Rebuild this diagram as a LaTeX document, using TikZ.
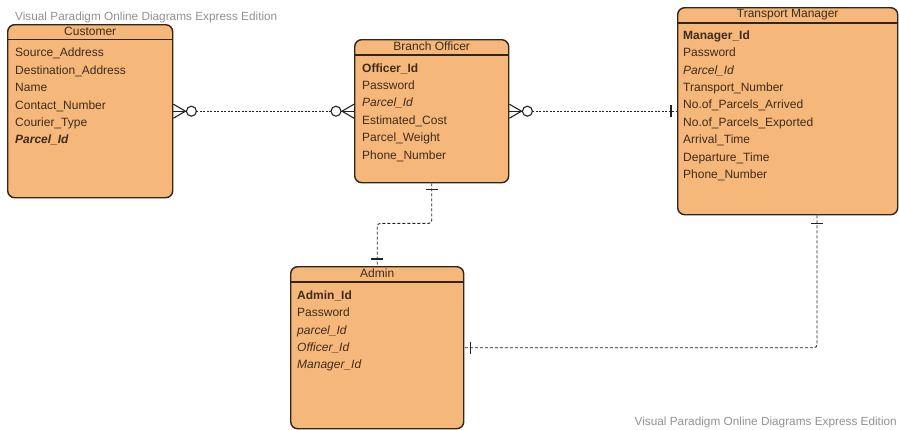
\documentclass[tikz,border=0pt]{standalone}
\usepackage{fontspec}
\setmainfont{Liberation Sans}
\usetikzlibrary{calc}
\definecolor{boxfill}{RGB}{245,183,122}
\definecolor{boxline}{RGB}{50,36,25}
\definecolor{txt}{RGB}{62,44,30}
\definecolor{wmgray}{RGB}{145,145,145}
\definecolor{conn}{RGB}{35,35,35}
\begin{document}
\begin{tikzpicture}[x=1pt,y=-1pt,
  entity/.style={draw=boxline, fill=boxfill, line width=1.4pt, rounded corners=7pt, anchor=north west, inner sep=0pt},
  attr/.style={anchor=west, inner sep=0pt, text=txt, font=\fontsize{12}{14}\selectfont, text height=8.5pt, text depth=2.5pt},
  ttl/.style={attr, anchor=center},
  hdr/.style={draw=boxline, line width=1.2pt},
  rel/.style={draw=conn, line width=0.9pt},
  dotrel/.style={rel, dash pattern=on 2pt off 1.5pt},
  dashrel/.style={rel, dash pattern=on 3pt off 2pt, rounded corners=3pt},
  endmk/.style={draw=conn, line width=1.1pt},
  wmark/.style={anchor=west, inner sep=0pt, text=wmgray, font=\fontsize{11.8}{14}\selectfont}
]
\useasboundingbox (0,0) rectangle (899,429);

% entities
\node[entity, minimum width=165pt, minimum height=173pt] (cust) at (7,24) {};
\node[entity, minimum width=154pt, minimum height=143pt] (bo) at (354,39) {};
\node[entity, minimum width=220pt, minimum height=207pt] (tm) at (677,7) {};
\node[entity, minimum width=173pt, minimum height=162pt] (admin) at (290,266) {};

% header lines
\draw[hdr] ($(cust.north west)+(0,15.5)$) -- ($(cust.north east)+(0,15.5)$);
\draw[hdr] ($(bo.north west)+(0,16)$) -- ($(bo.north east)+(0,16)$);
\draw[hdr] ($(tm.north west)+(0,16)$) -- ($(tm.north east)+(0,16)$);
\draw[hdr] ($(admin.north west)+(0,16)$) -- ($(admin.north east)+(0,16)$);

% titles
\node[ttl] (custT) at ($(cust.north)+(0,8)$) {Customer};
\node[ttl] (boT) at ($(bo.north)+(0,8)$) {Branch Officer};
\node[ttl] (tmT) at ($(tm.north)+(0,7.5)$) {Transport Manager};
\node[ttl] (adminT) at ($(admin.north)+(0,8)$) {Admin};

% Customer attributes
\node[attr] (c1) at (15,53) {Source\_Address};
\node[attr] (c2) at (15,71) {Destination\_Address};
\node[attr] (c3) at (15,88.5) {Name};
\node[attr] (c4) at (15,106) {Contact\_Number};
\node[attr] (c5) at (15,123) {Courier\_Type};
\node[attr] (c6) at (15,140.5) {\bfseries\itshape Parcel\_Id};

% Branch Officer attributes
\node[attr] (b1) at (362,69) {\bfseries Officer\_Id};
\node[attr] (b2) at (362,86.5) {Password};
\node[attr] (b3) at (362,103.5) {\itshape Parcel\_Id};
\node[attr] (b4) at (362,121) {Estimated\_Cost};
\node[attr] (b5) at (362,138) {Parcel\_Weight};
\node[attr] (b6) at (362,156) {Phone\_Number};

% Transport Manager attributes
\node[attr] (t1) at (683,36.5) {\bfseries Manager\_Id};
\node[attr] (t2) at (683,53.5) {Password};
\node[attr] (t3) at (683,71) {\itshape Parcel\_Id};
\node[attr] (t4) at (683,88) {Transport\_Number};
\node[attr] (t5) at (683,105.5) {No.of\_Parcels\_Arrived};
\node[attr] (t6) at (683,123) {No.of\_Parcels\_Exported};
\node[attr] (t7) at (683,140.5) {Arrival\_Time};
\node[attr] (t8) at (683,158) {Departure\_Time};
\node[attr] (t9) at (683,175) {Phone\_Number};

% Admin attributes
\node[attr] (a1) at (297,296) {\bfseries Admin\_Id};
\node[attr] (a2) at (297,313) {Password};
\node[attr] (a3) at (297,331) {\itshape parcel\_Id};
\node[attr] (a4) at (297,348) {\itshape Officer\_Id};
\node[attr] (a5) at (297,365) {\itshape Manager\_Id};

% connectors
\draw[dotrel, shorten <=23pt, shorten >=23pt] (cust.east) -- (bo.west);
\draw[dotrel, shorten <=23pt] (bo.east) -- (tm.west);
\draw[dashrel] (bo.south) -- ++(0,40) -| (admin.north);
\coordinate (tmb) at ($(tm.south west)+(140,0)$);
\draw[dashrel] (tmb) |- (admin.east);

% crow's foot + circle at Customer
\draw[endmk] ($(cust.east)+(0,-7)$) -- ($(cust.east)+(12,0)$) -- ($(cust.east)+(0,7)$);
\draw[endmk] (cust.east) -- ($(cust.east)+(13,0)$);
\draw[endmk] ($(cust.east)+(18,0)$) circle[radius=5pt];
% crow's foot + circle at Branch Officer (left)
\draw[endmk] ($(bo.west)+(0,-7)$) -- ($(bo.west)+(-12,0)$) -- ($(bo.west)+(0,7)$);
\draw[endmk] (bo.west) -- ($(bo.west)+(-13,0)$);
\draw[endmk] ($(bo.west)+(-18,0)$) circle[radius=5pt];
% crow's foot + circle at Branch Officer (right)
\draw[endmk] ($(bo.east)+(0,-7)$) -- ($(bo.east)+(12,0)$) -- ($(bo.east)+(0,7)$);
\draw[endmk] (bo.east) -- ($(bo.east)+(13,0)$);
\draw[endmk] ($(bo.east)+(18,0)$) circle[radius=5pt];
% bars
\draw[endmk] ($(tm.west)+(-6,-6)$) -- ($(tm.west)+(-6,6)$);
\draw[endmk] ($(bo.south)+(-6,6)$) -- ($(bo.south)+(6,6)$);
\draw[endmk] ($(admin.north)+(-6,-7)$) -- ($(admin.north)+(6,-7)$);
\draw[endmk] ($(tmb)+(-6,8)$) -- ($(tmb)+(6,8)$);
\draw[endmk] ($(admin.east)+(6,-6)$) -- ($(admin.east)+(6,6)$);

% watermarks
\node[wmark] (wm1) at (15,17) {Visual Paradigm Online Diagrams Express Edition};
\node[wmark, anchor=east] (wm2) at (897,422) {Visual Paradigm Online Diagrams Express Edition};
\end{tikzpicture}
\end{document}
